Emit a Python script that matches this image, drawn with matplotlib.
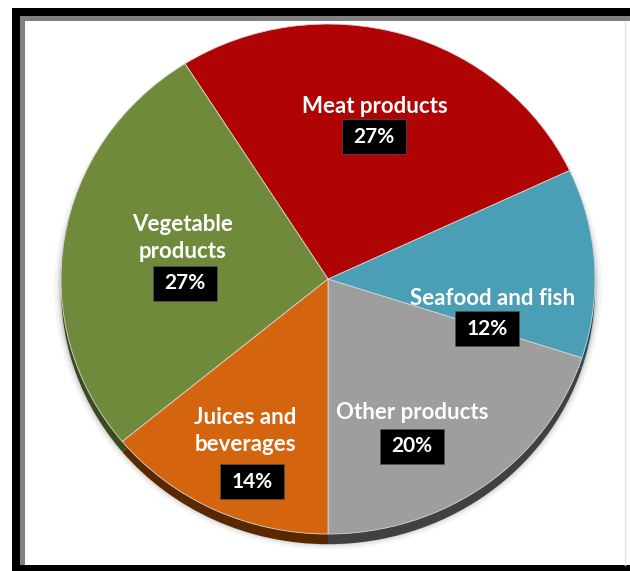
import matplotlib
matplotlib.use("Agg")
import matplotlib.pyplot as plt
from matplotlib.patches import Rectangle, Ellipse

# data, counter-clockwise starting from straight down
categories = ["Other products", "Seafood and fish", "Meat products",
              "Vegetable\nproducts", "Juices and\nbeverages"]
shares = [20, 12, 27, 27, 14]
pct_labels = ["20%", "12%", "27%", "27%", "14%"]

colors = ["#9e9e9e", "#4a9eb6", "#b00404", "#6f8a3b", "#d5640f"]
side_colors = ["#414141", "#24505c", "#580000", "#3a4a1e", "#582800"]

# label placement in pie units (name centre, box centre)
name_pos = [(0.315, -0.522), (0.618, -0.075), (0.176, 0.678),
            (-0.543, 0.161), (-0.311, -0.596)]
box_pos = [(0.315, -0.655), (0.596, -0.196), (0.172, 0.557),
           (-0.536, -0.016), (-0.285, -0.796)]

W, H = 630, 571
fig = plt.figure(figsize=(W / 100, H / 100), dpi=100)

# frame in pixel coords
bg = fig.add_axes([0, 0, 1, 1])
bg.set_xlim(0, W)
bg.set_ylim(H, 0)
bg.axis("off")
bg.add_patch(Rectangle((12, 8), W - 12, 8, color="black", lw=0))
bg.add_patch(Rectangle((12, 8), 8, H - 8, color="black", lw=0))
bg.add_patch(Rectangle((12, 565), W - 12, 6, color="black", lw=0))
bg.add_patch(Rectangle((20, 16), W - 20, 5, color="#808080", lw=0))
bg.add_patch(Rectangle((20, 16), 5, 549, color="#808080", lw=0))
bg.plot([625, 625], [21, 565], color="#e6e6e6", lw=1)

# pie axes: centre at pixel (328, 279), rx 267, ry 255
cx, cy, rx, ry = 328, 279, 267, 255
ax = fig.add_axes([0, 0, 1, 1])
ax.patch.set_alpha(0)

# soft shadow behind the pie
for k, a in [(1.025, 0.04), (1.015, 0.06), (1.007, 0.1)]:
    ax.add_patch(Ellipse((0, -0.035), 2 * k, 2 * k, color="black", alpha=a, lw=0))

# side (depth) of the pie
ax.pie(shares, colors=side_colors, startangle=-90, counterclock=True,
       center=(0, -0.04), wedgeprops=dict(linewidth=0))
# top face
ax.pie(shares, colors=colors, startangle=-90, counterclock=True,
       wedgeprops=dict(edgecolor="#d8d8d8", linewidth=0.6))

ax.set_aspect("auto")
ax.set_xlim(-cx / rx, (W - cx) / rx)
ax.set_ylim((cy - H) / ry, cy / ry)
ax.axis("off")

font = "Lato"
bw, bh = 64 / rx, 35 / ry
for name, pct, (nx, ny), (bx, by) in zip(categories, pct_labels, name_pos, box_pos):
    ax.text(nx, ny, name, ha="center", va="center", color="white",
            fontsize=16, fontweight="bold", family=font, linespacing=1.35)
    ax.add_patch(Rectangle((bx - bw / 2, by - bh / 2), bw, bh,
                           facecolor="black", edgecolor="#555555", lw=0.5))
    ax.text(bx, by, pct, ha="center", va="center", color="white",
            fontsize=15, fontweight="bold", family=font)

fig.savefig("out.png", dpi=100)
